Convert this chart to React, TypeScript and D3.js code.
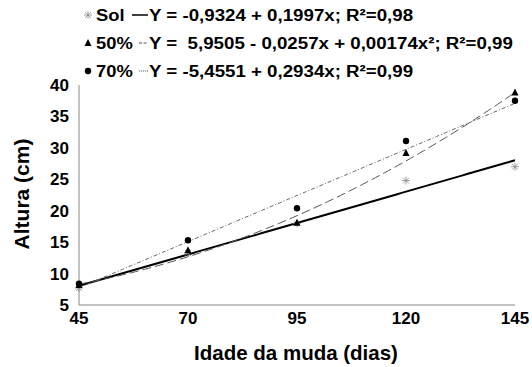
import React from 'react';
import * as d3 from 'd3';

// dias
const dias = [45, 70, 95, 120, 145];
const sol = [7.7, 13.3, 18.0, 24.8, 27.0];
const s50 = [8.2, 13.7, 18.1, 29.2, 38.8];
const s70 = [8.4, 15.3, 20.4, 31.1, 37.5];

// regression coefficients (c0, c1, c2)
const coefSol = [-0.9324, 0.1997, 0];
const coef50 = [5.9505, -0.0257, 0.00174];
const coef70 = [-5.4551, 0.2934, 0];

const yTicks = [5, 10, 15, 20, 25, 30, 35, 40];
const legendLabels = ['Sol', '50%', '70%'];
const legendEqs = [
  'Y = -0,9324 + 0,1997x; R²=0,98',
  'Y =  5,9505 - 0,0257x + 0,00174x²; R²=0,99',
  'Y = -5,4551 + 0,2934x; R²=0,99',
];

const W = 532, H = 367;
const m = { left: 79, right: 17, top: 85, bottom: 62 };

const App = () => {
  const x = d3.scaleLinear().domain([45, 145]).range([m.left, W - m.right]);
  const y = d3.scaleLinear().domain([5, 40]).range([H - m.bottom, m.top]);
  const font = 'Arial, "Liberation Sans", sans-serif';

  const curve = (c: number[]) => {
    const xs = d3.range(45, 145.01, 1);
    return d3.line<number>().x(d => x(d)).y(d => y(c[0] + c[1] * d + c[2] * d * d))(xs) || '';
  };

  const star = (cx: number, cy: number, k: string | number) => (
    <g key={k} stroke="#888" strokeWidth={0.8}>
      <line x1={cx - 4} y1={cy} x2={cx + 4} y2={cy} />
      <line x1={cx} y1={cy - 4} x2={cx} y2={cy + 4} />
      <line x1={cx - 3} y1={cy - 3} x2={cx + 3} y2={cy + 3} />
      <line x1={cx - 3} y1={cy + 3} x2={cx + 3} y2={cy - 3} />
    </g>
  );
  const tri = (cx: number, cy: number, k: string | number) => (
    <path key={k} d={`M${cx},${cy - 4}L${cx + 3.5},${cy + 3}L${cx - 3.5},${cy + 3}Z`} fill="#000" />
  );
  const dot = (cx: number, cy: number, k: string | number) => (
    <circle key={k} cx={cx} cy={cy} r={3.2} fill="#000" />
  );

  const lineStyles = [
    { stroke: '#000', width: 2, dash: '' },
    { stroke: '#555', width: 1, dash: '9,4' },
    { stroke: '#666', width: 1, dash: '4,2,1,2' },
  ];
  const markers = [star, tri, dot];
  // legend sample line start per row
  const sampleStart = [132, 139, 139];

  return (
    <svg width={W} height={H} style={{ position: 'absolute', left: 0, top: 0 }}>
      <rect width={W} height={H} fill="#fff" />
      {/* axes */}
      <line x1={m.left} y1={m.top} x2={m.left} y2={H - m.bottom} stroke="#888" />
      <line x1={m.left} y1={H - m.bottom} x2={W - m.right} y2={H - m.bottom} stroke="#888" />
      {yTicks.map(t => (
        <text key={t} x={m.left - 10} y={y(t)} dy="0.35em" textAnchor="end" fontFamily={font} fontWeight="bold" fontSize={17}>{t}</text>
      ))}
      {dias.map(t => (
        <text key={t} x={x(t)} y={H - m.bottom + 19} textAnchor="middle" fontFamily={font} fontWeight="bold" fontSize={17}>{t}</text>
      ))}
      <text x={296} y={360} textAnchor="middle" fontFamily={font} fontWeight="bold" fontSize={20.5}>Idade da muda (dias)</text>
      <text transform="translate(29,194) rotate(-90)" textAnchor="middle" fontFamily={font} fontWeight="bold" fontSize={21}>Altura (cm)</text>

      {/* trend lines */}
      {[coefSol, coef50, coef70].map((c, i) => (
        <path key={i} d={curve(c)} fill="none" stroke={lineStyles[i].stroke} strokeWidth={lineStyles[i].width} strokeDasharray={lineStyles[i].dash} />
      ))}
      {/* points */}
      {sol.map((v, i) => star(x(dias[i]), y(v), 's' + i))}
      {s50.map((v, i) => tri(x(dias[i]), y(v), 't' + i))}
      {s70.map((v, i) => dot(x(dias[i]), y(v), 'c' + i))}

      {/* legend */}
      {legendLabels.map((l, i) => {
        const ly = 15 + i * 28;
        return (
          <g key={l}>
            {markers[i](88, ly, 'lm' + i)}
            <g transform={`translate(96,${ly}) scale(1.08,1)`}>
              <text x={0} y={0} dy="0.35em" fontFamily={font} fontWeight="bold" fontSize={17}>{l}</text>
            </g>
            <line x1={sampleStart[i]} x2={148} y1={ly} y2={ly} stroke={lineStyles[i].stroke} strokeWidth={i === 0 ? 1.5 : 1} strokeDasharray={i === 1 ? '3,1.5' : i === 2 ? '1.2,0.8' : ''} />
            <g transform={`translate(149,${ly}) scale(1.1,1)`}>
              <text x={0} y={0} dy="0.35em" fontFamily={font} fontWeight="bold" fontSize={17} style={{ whiteSpace: 'pre' }}>{legendEqs[i]}</text>
            </g>
          </g>
        );
      })}
    </svg>
  );
};

export default App;
